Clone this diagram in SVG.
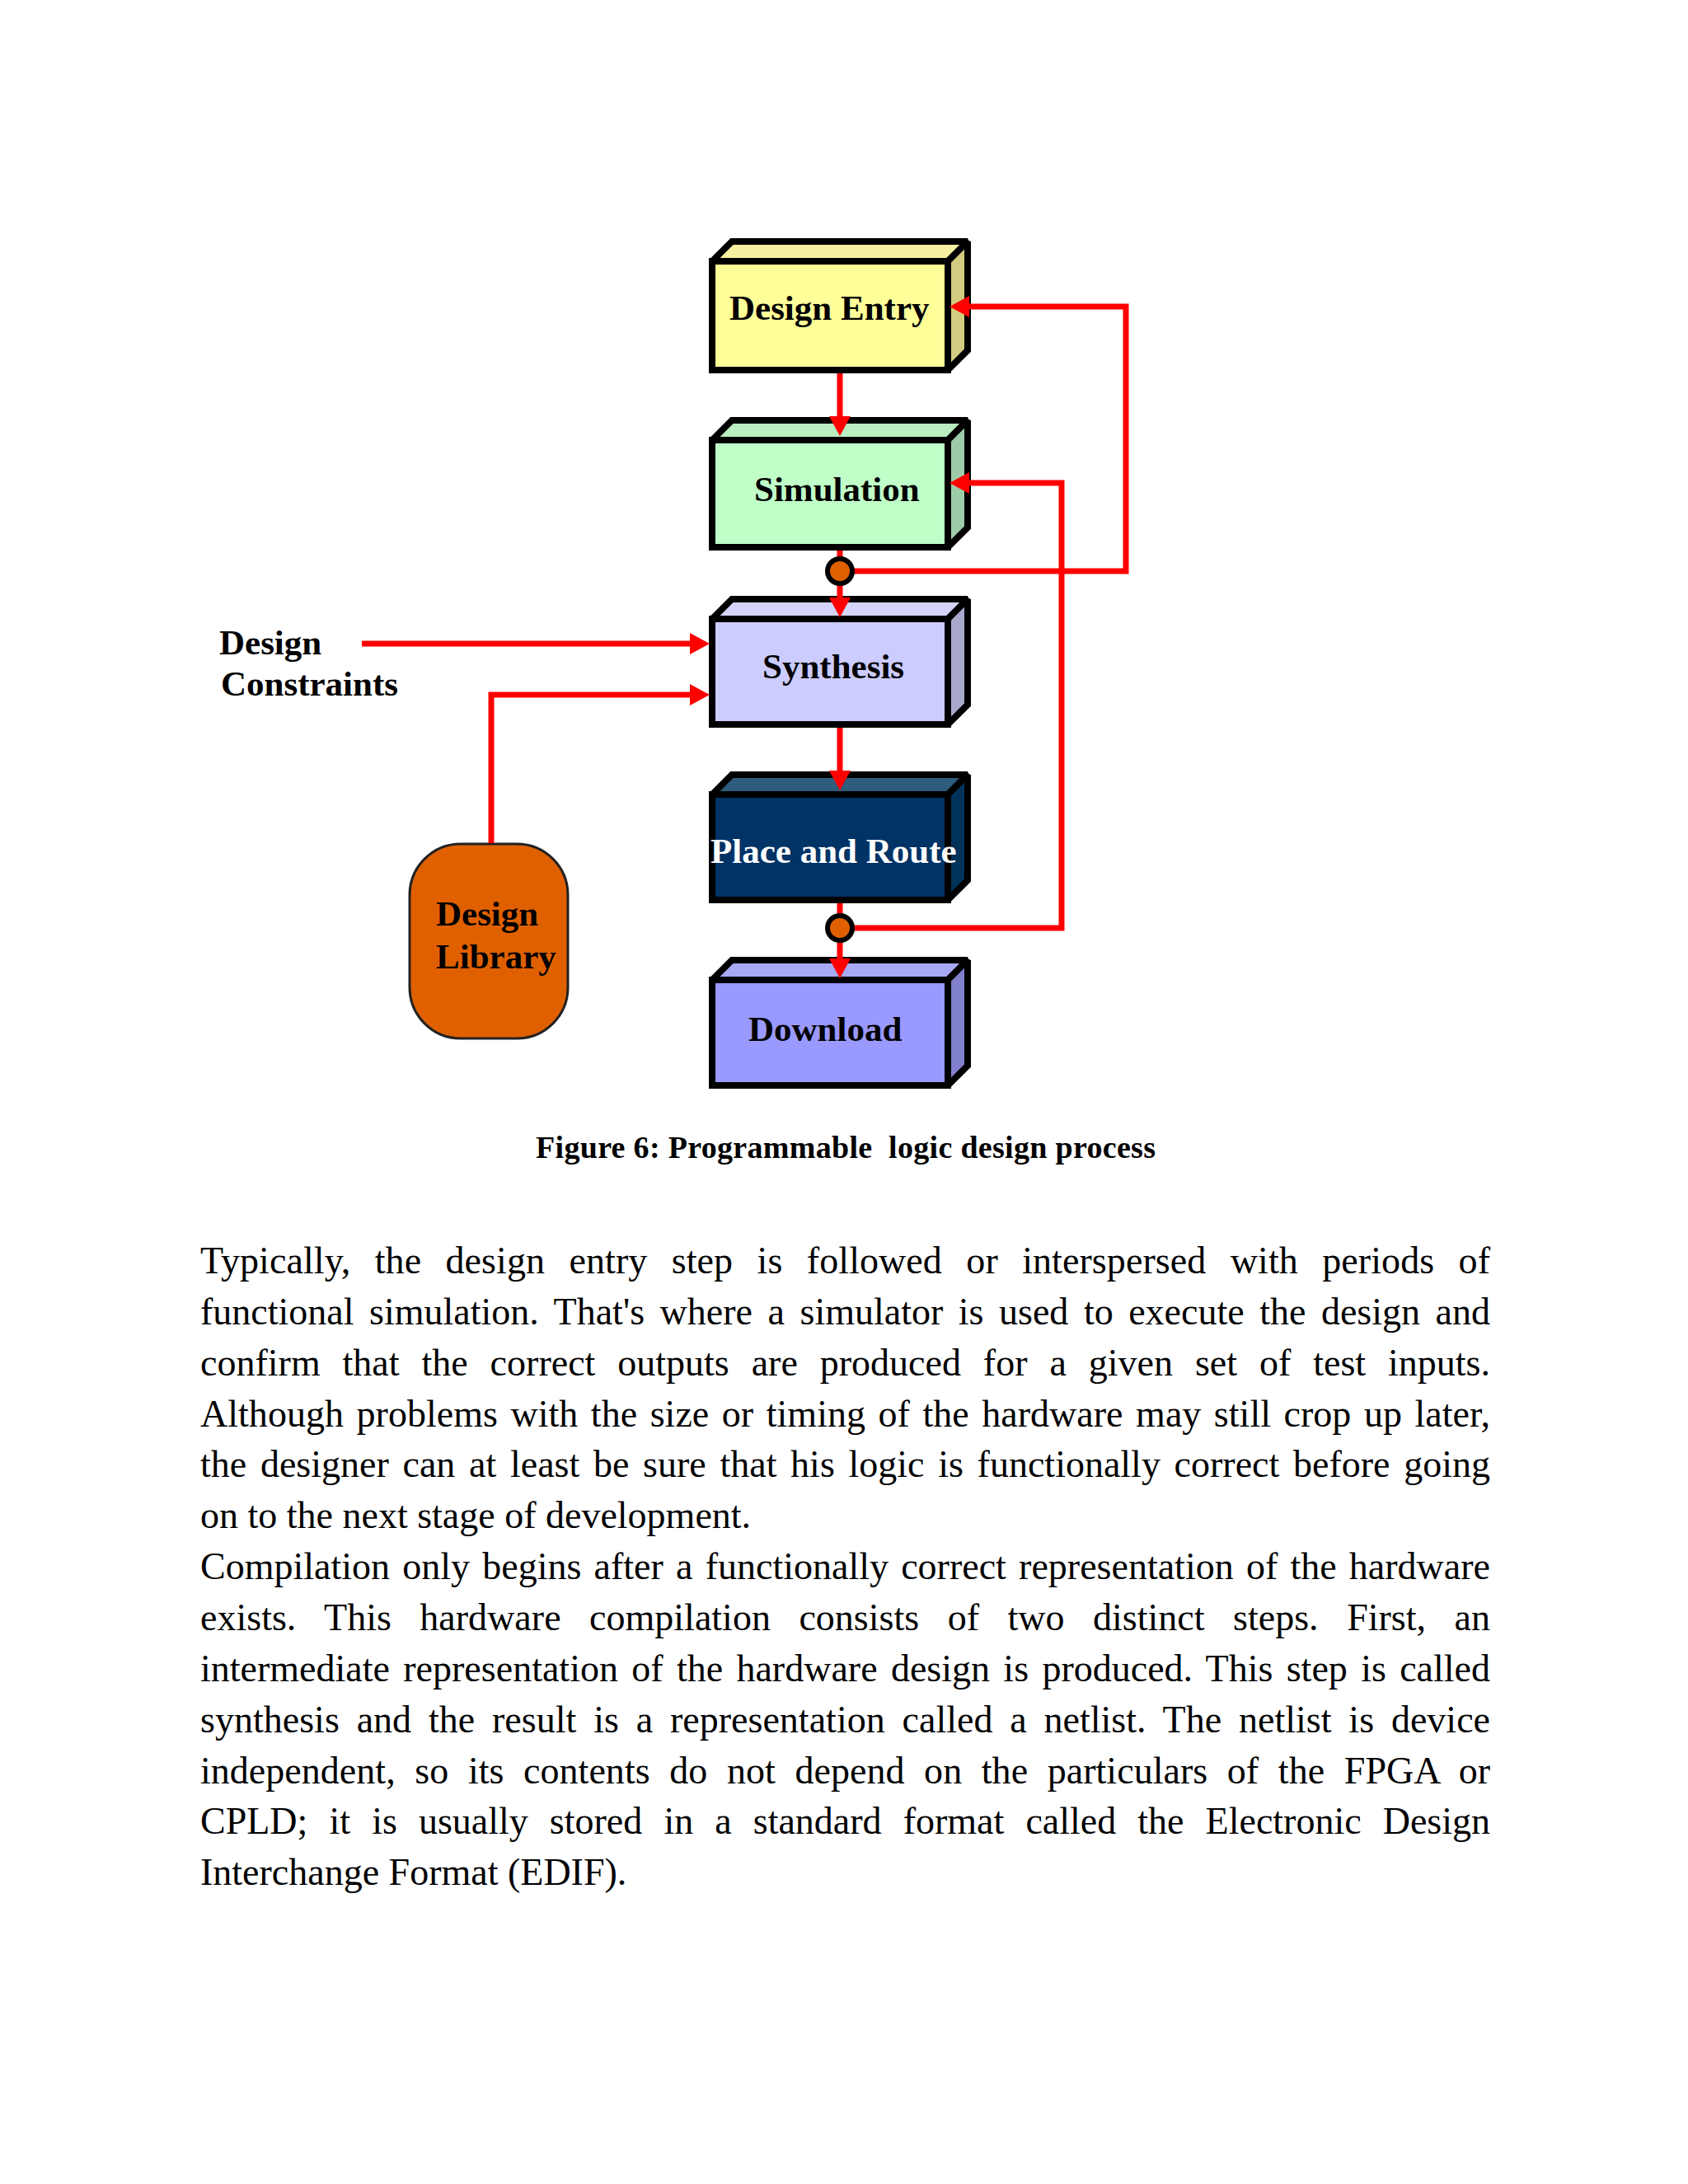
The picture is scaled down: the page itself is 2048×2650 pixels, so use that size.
<svg xmlns="http://www.w3.org/2000/svg" width="2048" height="2650" viewBox="0 0 2048 2650">
<style>
.box{stroke:#000;stroke-width:8;stroke-linejoin:miter;stroke-miterlimit:2}
.lbl{font-family:"Liberation Serif","Times New Roman",serif;font-weight:bold;font-size:43px;fill:#000}
.wire{fill:none;stroke:#FF0000;stroke-width:7;stroke-linejoin:miter}
.arr{marker-end:url(#ah)}
.dot{fill:#E06000;stroke:#000;stroke-width:6}
.body{font-family:"Liberation Serif","Times New Roman",serif;font-size:46px;fill:#000}
.cap{font-family:"Liberation Serif","Times New Roman",serif;font-weight:bold;font-size:38px;fill:#000}
</style>
<defs>
<marker id="ah" markerUnits="userSpaceOnUse" markerWidth="30" markerHeight="30" refX="1" refY="13" orient="auto">
<path d="M0,0 L24,13 L0,26 Z" fill="#FF0000"/>
</marker>
</defs>
<rect x="0" y="0" width="2048" height="2650" fill="#FFFFFF"/>

<g id="design-entry">
<polygon class="box" fill="#F4F0A0" points="864,317 888,293 1174,293 1150,317"/>
<polygon class="box" fill="#D2CD80" points="1150,317 1174,293 1174,425 1150,449"/>
<rect class="box" fill="#FFFF99" x="864" y="317" width="286" height="132"/>
<text class="lbl" x="885" y="388">Design Entry</text>
</g>

<g id="simulation">
<polygon class="box" fill="#B8EEC0" points="864,534 888,510 1174,510 1150,534"/>
<polygon class="box" fill="#9CCCA8" points="1150,534 1174,510 1174,640 1150,664"/>
<rect class="box" fill="#C0FFC8" x="864" y="534" width="286" height="130"/>
<text class="lbl" x="915" y="608">Simulation</text>
</g>

<g id="synthesis">
<polygon class="box" fill="#D4D4F8" points="864,751 888,727 1174,727 1150,751"/>
<polygon class="box" fill="#A8A8CC" points="1150,751 1174,727 1174,855 1150,879"/>
<rect class="box" fill="#CCCCFF" x="864" y="751" width="286" height="128"/>
<text class="lbl" x="925" y="823">Synthesis</text>
</g>

<g id="place-and-route">
<polygon class="box" fill="#2D5C7C" points="864,964 888,940 1174,940 1150,964"/>
<polygon class="box" fill="#00335A" points="1150,964 1174,940 1174,1068 1150,1092"/>
<rect class="box" fill="#003366" x="864" y="964" width="286" height="128"/>
<text class="lbl" x="862" y="1047" style="fill:#FFFFFF">Place and Route</text>
</g>

<g id="download">
<polygon class="box" fill="#A8A8F4" points="864,1189 888,1165 1174,1165 1150,1189"/>
<polygon class="box" fill="#8080CC" points="1150,1189 1174,1165 1174,1293 1150,1317"/>
<rect class="box" fill="#9999FF" x="864" y="1189" width="286" height="128"/>
<text class="lbl" x="908" y="1263">Download</text>
</g>

<g id="design-library">
<rect x="497" y="1024" width="192" height="236" rx="62" ry="62" fill="#E06000" stroke="#222" stroke-width="3"/>
<text class="lbl" x="529" y="1123">Design</text>
<text class="lbl" x="529" y="1175">Library</text>
</g>

<g id="design-constraints">
<text class="lbl" x="266" y="794">Design</text>
<text class="lbl" x="268" y="844">Constraints</text>
</g>

<g id="connectors">
<path class="wire arr" d="M1019,453 L1019,506"/>
<path class="wire" d="M1019,668 L1019,693"/>
<path class="wire arr" d="M1019,705 L1019,726"/>
<path class="wire arr" d="M1019,883 L1019,936"/>
<path class="wire" d="M1019,1096 L1019,1126"/>
<path class="wire arr" d="M1019,1138 L1019,1164"/>
<path class="wire arr" d="M1019,693 L1366,693 L1366,372 L1175,372"/>
<path class="wire arr" d="M1019,1126 L1288,1126 L1288,586 L1175,586"/>
<path class="wire arr" d="M439,781 L838,781"/>
<path class="wire arr" d="M596,1023 L596,843 L838,843"/>
<circle class="dot" cx="1019" cy="693" r="15"/>
<circle class="dot" cx="1019" cy="1126" r="15"/>
</g>

<text class="cap" x="650" y="1405" xml:space="preserve" textLength="752" lengthAdjust="spacing">Figure 6: Programmable  logic design process</text>

<g id="body-text">
<text class="body" x="243" y="1545" style="word-spacing:17.8px" textLength="1565" lengthAdjust="spacing">Typically, the design entry step is followed or interspersed with periods of</text>
<text class="body" x="243" y="1607" style="word-spacing:7px" textLength="1565" lengthAdjust="spacing">functional simulation. That's where a simulator is used to execute the design and</text>
<text class="body" x="243" y="1669" style="word-spacing:15.4px" textLength="1565" lengthAdjust="spacing">confirm that the correct outputs are produced for a given set of test inputs.</text>
<text class="body" x="243" y="1731" style="word-spacing:4px" textLength="1565" lengthAdjust="spacing">Although problems with the size or timing of the hardware may still crop up later,</text>
<text class="body" x="243" y="1792" style="word-spacing:5.2px" textLength="1565" lengthAdjust="spacing">the designer can at least be sure that his logic is functionally correct before going</text>
<text class="body" x="243" y="1854">on to the next stage of development.</text>
<text class="body" x="243" y="1916" style="word-spacing:3.7px" textLength="1565" lengthAdjust="spacing">Compilation only begins after a functionally correct representation of the hardware</text>
<text class="body" x="243" y="1978" style="word-spacing:23px" textLength="1565" lengthAdjust="spacing">exists. This hardware compilation consists of two distinct steps. First, an</text>
<text class="body" x="243" y="2040" style="word-spacing:4.8px" textLength="1565" lengthAdjust="spacing">intermediate representation of the hardware design is produced. This step is called</text>
<text class="body" x="243" y="2102" style="word-spacing:9.3px" textLength="1565" lengthAdjust="spacing">synthesis and the result is a representation called a netlist. The netlist is device</text>
<text class="body" x="243" y="2164" style="word-spacing:12.1px" textLength="1565" lengthAdjust="spacing">independent, so its contents do not depend on the particulars of the FPGA or</text>
<text class="body" x="243" y="2225" style="word-spacing:14.6px" textLength="1565" lengthAdjust="spacing">CPLD; it is usually stored in a standard format called the Electronic Design</text>
<text class="body" x="243" y="2287">Interchange Format (EDIF).</text>
</g>
</svg>
